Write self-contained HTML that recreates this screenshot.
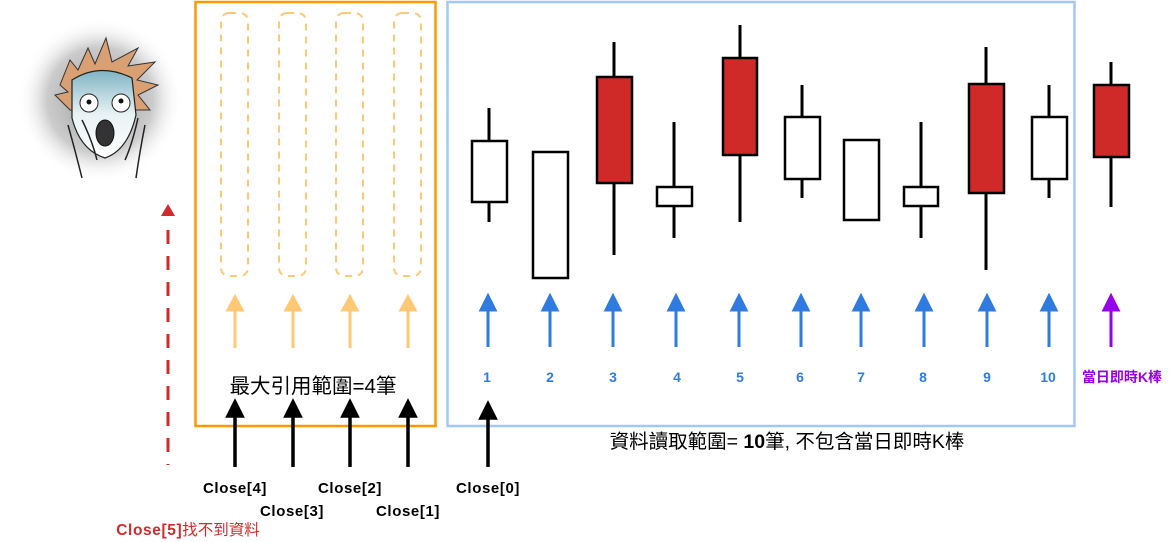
<!DOCTYPE html>
<html><head><meta charset="utf-8"><style>
html,body{margin:0;padding:0;background:#fff;width:1170px;height:542px;overflow:hidden}
svg{display:block}
text{font-family:"Liberation Sans","Noto Sans CJK TC",sans-serif}
</style></head><body>
<svg width="1170" height="542" viewBox="0 0 1170 542" xmlns="http://www.w3.org/2000/svg">
<defs>
<radialGradient id="halo" cx="50%" cy="50%" r="50%">
<stop offset="0" stop-color="#999"/><stop offset="0.65" stop-color="#ccc"/><stop offset="1" stop-color="#fff" stop-opacity="0"/>
</radialGradient>
<linearGradient id="skin" x1="0" y1="0" x2="0" y2="1"><stop offset="0" stop-color="#7fb4c4"/><stop offset="0.5" stop-color="#e8f2f4"/><stop offset="1" stop-color="#fff"/></linearGradient>
</defs>
<!-- face -->
<circle cx="100" cy="100" r="82" fill="url(#halo)"/>
<path d="M60,85 L70,60 L78,70 L88,48 L95,64 L106,38 L112,62 L138,48 L128,66 L155,62 L137,80 L158,85 L138,95 L150,110 L70,110 L55,95 L68,92 Z" fill="#d9a074" stroke="#333" stroke-width="1"/>
<path d="M72,80 Q100,62 132,78 L136,115 Q128,150 105,158 Q80,150 72,118 Z" fill="url(#skin)" stroke="#222" stroke-width="1.2"/>
<circle cx="89" cy="103" r="9" fill="#fff" stroke="#222"/><circle cx="89" cy="102" r="2.5" fill="#111"/>
<circle cx="121" cy="103" r="9" fill="#fff" stroke="#222"/><circle cx="121" cy="101" r="2.5" fill="#111"/>
<ellipse cx="105" cy="133" rx="9" ry="13" fill="#333" stroke="#111"/>
<path d="M68,125 Q75,150 82,178 M82,120 Q92,140 97,160 M138,118 Q132,145 125,160 M145,125 Q140,150 136,178" fill="none" stroke="#222" stroke-width="1.5"/>
<!-- orange box -->
<rect x="195.5" y="2" width="240" height="424" fill="none" stroke="#ff9900" stroke-width="2.5"/>
<g fill="none" stroke="#ffc875" stroke-width="2" stroke-dasharray="7,6">
<rect x="221" y="13" width="27" height="263" rx="8"/>
<rect x="279" y="13" width="27" height="263" rx="8"/>
<rect x="336" y="13" width="27" height="263" rx="8"/>
<rect x="394" y="13" width="27" height="263" rx="8"/>
</g>
<g stroke="#ffc875" stroke-width="3" fill="#ffc875">
<line x1="235" y1="348" x2="235" y2="306"/><path d="M228,310 L235,297 L242,310 Z"/>
<line x1="293" y1="348" x2="293" y2="306"/><path d="M286,310 L293,297 L300,310 Z"/>
<line x1="350" y1="348" x2="350" y2="306"/><path d="M343,310 L350,297 L357,310 Z"/>
<line x1="408" y1="348" x2="408" y2="306"/><path d="M401,310 L408,297 L415,310 Z"/>
</g>
<text x="313" y="393" font-size="20.5" text-anchor="middle" fill="#000">最大引用範圍=4筆</text>
<!-- blue box -->
<rect x="447.5" y="2" width="627" height="424" fill="none" stroke="#a4c8f5" stroke-width="2.5"/>
<!-- candles -->
<g stroke="#000" stroke-width="3">
<line x1="489" y1="108" x2="489" y2="222"/>
<line x1="614" y1="42" x2="614" y2="255"/>
<line x1="674" y1="122" x2="674" y2="238"/>
<line x1="740" y1="25" x2="740" y2="222"/>
<line x1="802" y1="85" x2="802" y2="198"/>
<line x1="921" y1="122" x2="921" y2="238"/>
<line x1="986" y1="47" x2="986" y2="270"/>
<line x1="1049" y1="85" x2="1049" y2="198"/>
<line x1="1111" y1="62" x2="1111" y2="207"/>
</g>
<g stroke="#000" stroke-width="2.5">
<rect x="472" y="141" width="35" height="61" fill="#fff"/>
<rect x="533" y="152" width="35" height="126" fill="#fff"/>
<rect x="597" y="77" width="35" height="106" fill="#d02a28"/>
<rect x="657" y="187" width="35" height="19" fill="#fff"/>
<rect x="723" y="58" width="34" height="97" fill="#d02a28"/>
<rect x="785" y="117" width="35" height="62" fill="#fff"/>
<rect x="844" y="140" width="35" height="80" fill="#fff"/>
<rect x="904" y="187" width="34" height="19" fill="#fff"/>
<rect x="969" y="84" width="35" height="109" fill="#d02a28"/>
<rect x="1032" y="117" width="35" height="62" fill="#fff"/>
<rect x="1094" y="85" width="35" height="72" fill="#d02a28"/>
</g>
<!-- blue arrows -->
<g stroke="#2f7be0" stroke-width="3" fill="#2f7be0">
<line x1="488" y1="347" x2="488" y2="306"/><path d="M481,310 L488,296 L495,310 Z"/>
<line x1="550" y1="347" x2="550" y2="306"/><path d="M543,310 L550,296 L557,310 Z"/>
<line x1="613" y1="347" x2="613" y2="306"/><path d="M606,310 L613,296 L620,310 Z"/>
<line x1="676" y1="347" x2="676" y2="306"/><path d="M669,310 L676,296 L683,310 Z"/>
<line x1="739" y1="347" x2="739" y2="306"/><path d="M732,310 L739,296 L746,310 Z"/>
<line x1="801" y1="347" x2="801" y2="306"/><path d="M794,310 L801,296 L808,310 Z"/>
<line x1="861" y1="347" x2="861" y2="306"/><path d="M854,310 L861,296 L868,310 Z"/>
<line x1="924" y1="347" x2="924" y2="306"/><path d="M917,310 L924,296 L931,310 Z"/>
<line x1="987" y1="347" x2="987" y2="306"/><path d="M980,310 L987,296 L994,310 Z"/>
<line x1="1049" y1="347" x2="1049" y2="306"/><path d="M1042,310 L1049,296 L1056,310 Z"/>
</g>
<g stroke="#9900ee" stroke-width="3" fill="#9900ee">
<line x1="1111" y1="347" x2="1111" y2="306"/><path d="M1104,310 L1111,296 L1118,310 Z"/>
</g>
<g fill="#2f7be0" font-size="14" font-weight="bold" text-anchor="middle">
<text x="487" y="382">1</text><text x="550" y="382">2</text><text x="613" y="382">3</text><text x="677" y="382">4</text><text x="740" y="382">5</text><text x="800" y="382">6</text><text x="861" y="382">7</text><text x="923" y="382">8</text><text x="987" y="382">9</text><text x="1048" y="382">10</text>
</g>
<text x="1122" y="382" font-size="14" fill="#9900ee" text-anchor="middle" font-weight="bold">當日即時K棒</text>
<text x="787" y="448" font-size="19.5" text-anchor="middle" fill="#000">資料讀取範圍= <tspan font-weight="bold">10</tspan>筆, 不包含當日即時K棒</text>
<!-- black arrows -->
<g stroke="#000" stroke-width="3.5" fill="#000">
<line x1="235" y1="467" x2="235" y2="412"/><path d="M228,416 L235,402 L242,416 Z"/>
<line x1="293" y1="467" x2="293" y2="412"/><path d="M286,416 L293,402 L300,416 Z"/>
<line x1="350" y1="467" x2="350" y2="412"/><path d="M343,416 L350,402 L357,416 Z"/>
<line x1="408" y1="467" x2="408" y2="412"/><path d="M401,416 L408,402 L415,416 Z"/>
<line x1="488" y1="467" x2="488" y2="414"/><path d="M481,418 L488,404 L495,418 Z"/>
</g>
<!-- red dashed -->
<line x1="168" y1="230" x2="168" y2="465" stroke="#d02a2a" stroke-width="3" stroke-dasharray="14,12"/>
<path d="M161,216 L168,204 L175,216 Z" fill="#d02a2a"/>
<g font-size="15" font-weight="bold" fill="#000" text-anchor="middle" letter-spacing="0.6">
<text x="235" y="493">Close[4]</text>
<text x="292" y="516">Close[3]</text>
<text x="350" y="493">Close[2]</text>
<text x="408" y="516">Close[1]</text>
<text x="488" y="493">Close[0]</text>
</g>
<text x="188" y="535" font-size="15.5" fill="#d02a2a" text-anchor="middle"><tspan font-weight="bold" letter-spacing="0.6">Close[5]</tspan>找不到資料</text>
</svg>
</body></html>
